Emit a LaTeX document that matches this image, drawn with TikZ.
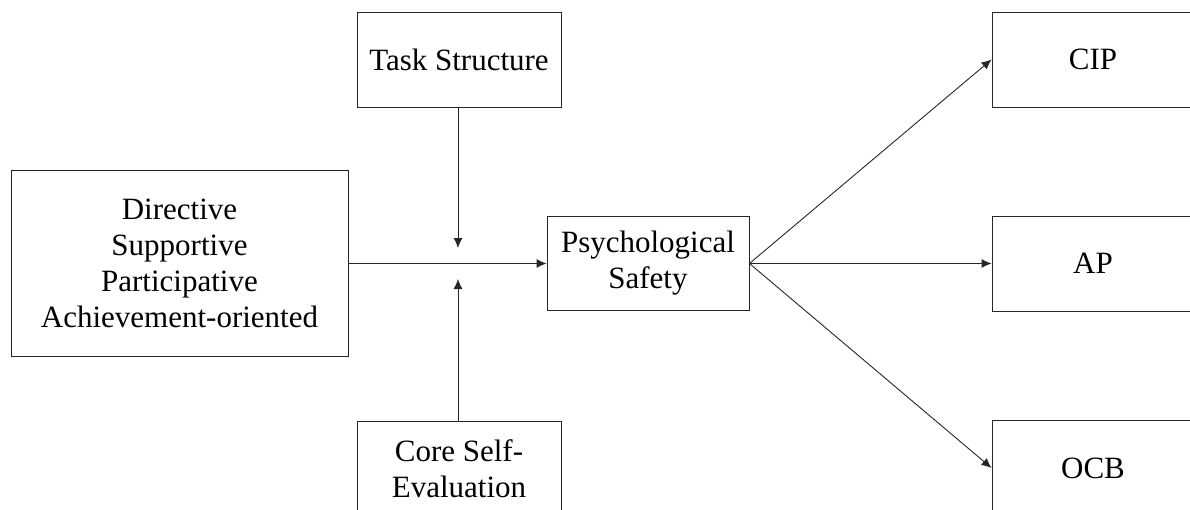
\documentclass[tikz,border=0pt]{standalone}
\usepackage{fontspec}
\setmainfont{Liberation Serif}
\usetikzlibrary{arrows.meta}
\begin{document}
\begin{tikzpicture}[x=1pt,y=-1pt,
  box/.style={draw=black!85, line width=0.9pt, rectangle, align=center, inner sep=0pt,
    font=\fontsize{31}{36}\selectfont},
  arr/.style={draw=black!85, line width=0.9pt, -{Latex[length=10pt,width=9pt]}},
  ln/.style={draw=black!85, line width=0.9pt}]
\useasboundingbox (0,0) rectangle (1190,509);
\node[box, minimum width=337pt, minimum height=186pt] (lead) at (179.5,263.5)
  {Directive\\Supportive\\Participative\\Achievement-oriented};
\node[box, minimum width=204pt, minimum height=95pt] (task) at (459,59.5) {Task Structure};
\node[box, minimum width=204pt, minimum height=95pt] (cse) at (459,468.5) {Core Self-\\Evaluation};
\node[box, minimum width=202pt, minimum height=94pt] (psy) at (648,263.5) {Psychological\\Safety};
\node[box, minimum width=202pt, minimum height=95pt] (cip) at (1093,59.5) {CIP};
\node[box, minimum width=202pt, minimum height=95pt] (ap) at (1093,263.5) {AP};
\node[box, minimum width=202pt, minimum height=95pt] (ocb) at (1093,468) {OCB};
\coordinate (mtop) at (458,248);
\coordinate (mbot) at (458,279);
\draw[arr] (lead.east) -- (psy.west);
\draw[arr] (task.south -| mtop) -- (mtop);
\draw[arr] (cse.north -| mbot) -- (mbot);
\draw[arr] (psy.east) -- (cip.west);
\draw[arr] (psy.east) -- (ap.west);
\draw[arr] (psy.east) -- (ocb.west);
\end{tikzpicture}
\end{document}
